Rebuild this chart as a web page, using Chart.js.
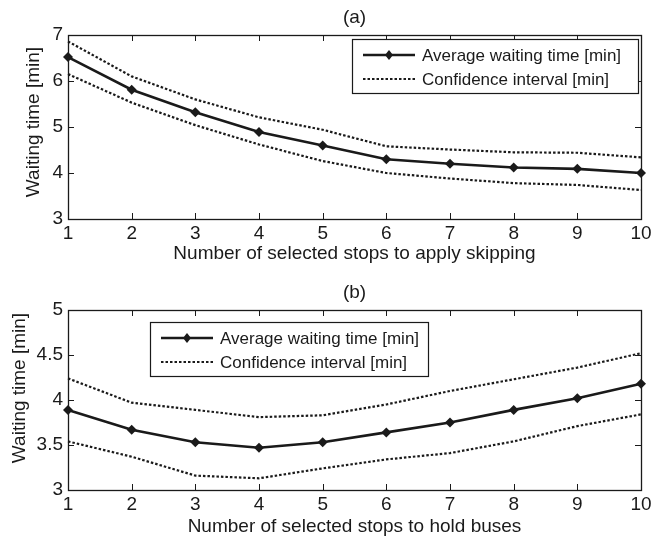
<!DOCTYPE html>
<html>
<head>
<meta charset="utf-8">
<script src="https://cdn.jsdelivr.net/npm/chart.js@4"></script>
<style>
  html, body { margin: 0; padding: 0; background: #fff; }
  #wrap { position: relative; width: 655px; height: 540px; }
  canvas { position: absolute; left: 0; }
  #chartA { top: 0; }
  #chartB { top: 270px; }
</style>
</head>
<body>
<div id="wrap">
  <canvas id="chartA" width="655" height="270"></canvas>
  <canvas id="chartB" width="655" height="270"></canvas>
</div>
<script>
// number of selected stops (x axis, both panels)
const stops = [1, 2, 3, 4, 5, 6, 7, 8, 9, 10];

// (a) stop skipping
const skipMean = [6.52, 5.81, 5.32, 4.89, 4.60, 4.30, 4.20, 4.12, 4.09, 4.00];
const skipUpper = [6.86, 6.10, 5.60, 5.21, 4.94, 4.58, 4.51, 4.45, 4.44, 4.34];
const skipLower = [6.15, 5.53, 5.04, 4.62, 4.26, 4.00, 3.88, 3.78, 3.74, 3.63];

// (b) bus holding
const holdMean = [3.89, 3.67, 3.53, 3.47, 3.53, 3.64, 3.75, 3.89, 4.02, 4.18];
const holdUpper = [4.24, 3.97, 3.89, 3.81, 3.83, 3.95, 4.10, 4.23, 4.36, 4.52];
const holdLower = [3.54, 3.37, 3.16, 3.13, 3.24, 3.34, 3.41, 3.54, 3.71, 3.84];

const meanLabel = "Average waiting time [min]";
const ciLabel = "Confidence interval [min]";
const yTitle = "Waiting time [min]";

const FONT = '"Liberation Sans", Arial, Helvetica, sans-serif';
const INK = "#1a1a1a";

function pts(arr) {
  return stops.map((x, i) => ({ x: x, y: arr[i] }));
}

// matlab-ish axes: box, inward ticks, titles and an inside legend
const matlabAxes = {
  id: "matlabAxes",
  afterDraw(chart, args, o) {
    const ctx = chart.ctx;
    const a = chart.chartArea;
    const xs = chart.scales.x, ys = chart.scales.y;
    ctx.save();
    ctx.strokeStyle = INK;
    ctx.lineWidth = 1;
    ctx.beginPath();
    xs.ticks.forEach(t => {
      const px = Math.round(xs.getPixelForValue(t.value)) + 0.5;
      ctx.moveTo(px, a.bottom); ctx.lineTo(px, a.bottom - 6);
      ctx.moveTo(px, a.top); ctx.lineTo(px, a.top + 6);
    });
    ys.ticks.forEach(t => {
      const py = Math.round(ys.getPixelForValue(t.value)) + 0.5;
      ctx.moveTo(a.left, py); ctx.lineTo(a.left + 6, py);
      ctx.moveTo(a.right, py); ctx.lineTo(a.right - 6, py);
    });
    ctx.stroke();
    ctx.lineWidth = 1.3;
    ctx.strokeRect(Math.round(a.left) + 0.5, Math.round(a.top) + 0.5,
      Math.round(a.right - a.left), Math.round(a.bottom - a.top));

    // texts
    ctx.fillStyle = INK;
    ctx.font = "19px " + FONT;
    ctx.textAlign = "center";
    ctx.textBaseline = "middle";
    ctx.fillText(o.title, (a.left + a.right) / 2, o.titleY);
    ctx.fillText(o.xTitle, (a.left + a.right) / 2, o.xTitleY);
    ctx.save();
    ctx.translate(o.yTitleX, (a.top + a.bottom) / 2 + o.yTitleDy);
    ctx.rotate(-Math.PI / 2);
    ctx.fillText(yTitle, 0, 0);
    ctx.restore();

    // legend
    const L = o.legend;
    ctx.font = "17px " + FONT;
    ctx.fillStyle = "#fff";
    ctx.fillRect(L.x, L.y, L.w, L.h);
    ctx.lineWidth = 1.2;
    ctx.strokeStyle = INK;
    ctx.strokeRect(L.x + 0.5, L.y + 0.5, L.w, L.h);
    const ds = chart.data.datasets;
    const rows = [ds[0], ds[1]];
    rows.forEach((d, i) => {
      const ry = L.y + 16 + i * 24;
      const x0 = L.x + 11, x1 = L.x + 63;
      ctx.save();
      ctx.strokeStyle = d.borderColor;
      ctx.lineWidth = d.borderWidth;
      ctx.setLineDash(d.borderDash || []);
      ctx.beginPath();
      ctx.moveTo(x0, ry); ctx.lineTo(x1, ry);
      ctx.stroke();
      ctx.restore();
      if (d.pointRadius > 0) {
        const cx = (x0 + x1) / 2, r = d.pointRadius;
        ctx.fillStyle = d.pointBackgroundColor;
        ctx.beginPath();
        ctx.moveTo(cx, ry - r); ctx.lineTo(cx + r * 0.8, ry);
        ctx.lineTo(cx, ry + r); ctx.lineTo(cx - r * 0.8, ry);
        ctx.closePath();
        ctx.fill();
      }
      ctx.fillStyle = INK;
      ctx.textAlign = "left";
      ctx.fillText(d.label, L.x + 70, ry + 1);
    });
    ctx.restore();
  }
};

function makeChart(id, cfg) {
  const meanSet = {
    label: meanLabel,
    data: pts(cfg.mean),
    borderColor: INK,
    borderWidth: 2.6,
    pointStyle: "rectRot",
    pointRadius: 5,
    pointBackgroundColor: INK,
    pointBorderColor: INK,
    pointBorderWidth: 0,
    clip: false
  };
  const ciStyle = {
    label: ciLabel,
    borderColor: INK,
    borderWidth: 2.2,
    borderDash: [2.5, 2],
    pointRadius: 0,
    clip: false
  };
  return new Chart(document.getElementById(id), {
    type: "line",
    data: {
      datasets: [
        meanSet,
        Object.assign({}, ciStyle, { data: pts(cfg.upper) }),
        Object.assign({}, ciStyle, { data: pts(cfg.lower) })
      ]
    },
    options: {
      responsive: false,
      animation: false,
      events: [],
      layout: { padding: { top: cfg.top, right: 14, left: 0, bottom: 0 } },
      plugins: {
        legend: { display: false },
        title: { display: false },
        tooltip: { enabled: false },
        matlabAxes: {
          title: cfg.title,
          titleY: cfg.titleY,
          xTitle: cfg.xTitle,
          xTitleY: cfg.xTitleY,
          yTitleX: cfg.yTitleX,
          yTitleDy: cfg.yTitleDy,
          legend: cfg.legend
        }
      },
      scales: {
        x: {
          type: "linear",
          min: 1, max: 10,
          grid: { display: false, drawTicks: false },
          border: { display: false },
          ticks: { stepSize: 1, padding: 3, color: INK, maxRotation: 0,
                   font: { family: FONT, size: 19 } },
          afterFit: s => { s.height = 270 - cfg.bottom; }
        },
        y: {
          min: cfg.yMin, max: cfg.yMax,
          grid: { display: false, drawTicks: false },
          border: { display: false },
          ticks: { stepSize: cfg.yStep, padding: 5, color: INK,
                   font: { family: FONT, size: 19 },
                   callback: v => String(v) },
          afterFit: s => { s.width = 68; }
        }
      }
    },
    plugins: [matlabAxes]
  });
}

makeChart("chartA", {
  mean: skipMean, upper: skipUpper, lower: skipLower,
  top: 35, bottom: 219,
  yMin: 3, yMax: 7, yStep: 1,
  title: "(a)", titleY: 18,
  xTitle: "Number of selected stops to apply skipping", xTitleY: 254,
  yTitleX: 34, yTitleDy: -5,
  legend: { x: 352, y: 39, w: 286, h: 54 }
});

makeChart("chartB", {
  mean: holdMean, upper: holdUpper, lower: holdLower,
  top: 40, bottom: 220,
  yMin: 3, yMax: 5, yStep: 0.5,
  title: "(b)", titleY: 23,
  xTitle: "Number of selected stops to hold buses", xTitleY: 257,
  yTitleX: 20, yTitleDy: -12,
  legend: { x: 150, y: 52, w: 278, h: 54 }
});
</script>
</body>
</html>
